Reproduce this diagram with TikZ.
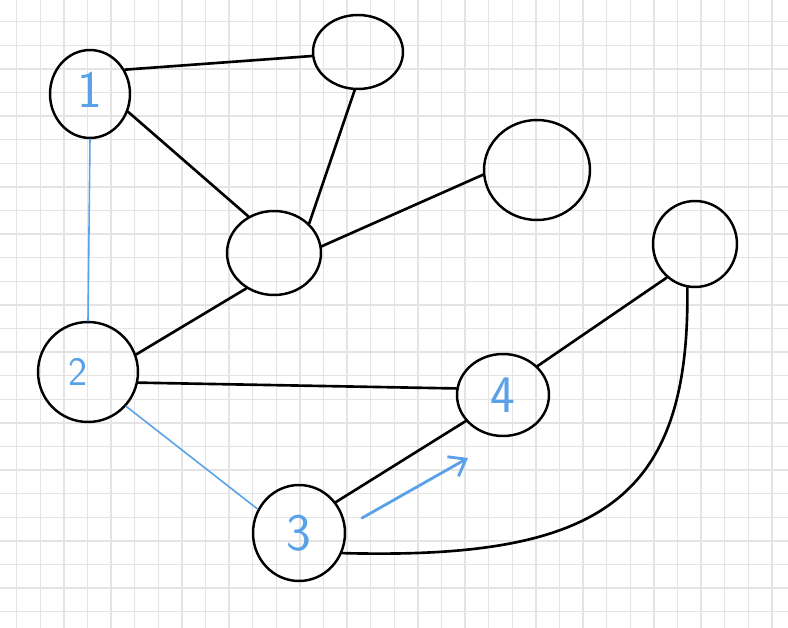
\documentclass[tikz,border=0pt]{standalone}
\usetikzlibrary{arrows.meta,shapes.geometric}
\definecolor{penblue}{HTML}{5AA2E8}
\definecolor{paper}{HTML}{E4E4E4}
\tikzset{
  gnode/.style={draw, ellipse, line width=1.4pt, inner sep=0pt, text=penblue, font=\fontsize{30}{30}\sffamily},
  gedge/.style={line width=1.5pt, line cap=round},
  gblue/.style={penblue, line width=0.9pt, line cap=round},
  garrow/.style={penblue, line width=1.6pt, line cap=round, -{Straight Barb[length=3mm, width=4.5mm]}},
  gridline/.style={paper, line width=0.8pt},
}

\begin{document}
\begin{tikzpicture}[x=0.02cm, y=-0.02cm]
  \useasboundingbox (0,0) rectangle (788,628);
  \fill[white] (0,0) rectangle (788,628);
  % grid paper
  \foreach \k in {0,...,32} \draw[gridline] ({16.7+23.6*\k},0) -- ({16.7+23.6*\k},628);
  \foreach \k in {0,...,25} \draw[gridline] (0,{21.7+23.6*\k}) -- (788,{21.7+23.6*\k});

  % nodes
  \node[gnode, minimum width=1.6cm, minimum height=1.76cm] (n1) at (90,94) {\raisebox{0.15cm}{1}};
  \node[gnode, minimum width=1.8cm, minimum height=1.48cm] (ntop) at (358,52) {};
  \node[gnode, minimum width=1.88cm, minimum height=1.68cm] (nmid) at (274,253) {};
  \node[gnode, minimum width=2.12cm, minimum height=2.0cm] (nright) at (537,170) {};
  \node[gnode, minimum width=1.68cm, minimum height=1.72cm] (nfar) at (695,244) {};
  \node[gnode, minimum width=2.0cm, minimum height=2.0cm] (n2) at (88,372) {\hbox{\fontsize{23}{23}\selectfont 2\kern0.4cm}};
  \node[gnode, minimum width=1.84cm, minimum height=1.64cm] (n4) at (503,395) {4};
  \node[gnode, minimum width=1.84cm, minimum height=1.92cm] (n3) at (299,533) {3};

  % black edges
  \draw[gedge] (n1.35) -- (ntop.185);
  \draw[gedge] (n1.-25) -- (nmid.125);
  \draw[gedge] (ntop.-95) -- (nmid.40);
  \draw[gedge] (nmid.8) -- (nright.185);
  \draw[gedge] (n2.20) -- (nmid.232);
  \draw[gedge] (n2.-12) -- (n4.172);
  \draw[gedge] (n4.40) -- (nfar.230);
  \draw[gedge] (n3.40) -- (n4.215);
  \draw[gedge] (n3.-25) .. controls (600,560) and (690,500) .. (nfar.-100);

  % blue path
  \draw[gblue] (n1.south) -- (n2.north);
  \draw[gblue] (n2.-42) -- (n3.150);
  \coordinate (arrS) at (362,518);
  \coordinate (arrE) at (468,458);
  \draw[garrow] (arrS) -- (arrE);
\end{tikzpicture}
\end{document}
